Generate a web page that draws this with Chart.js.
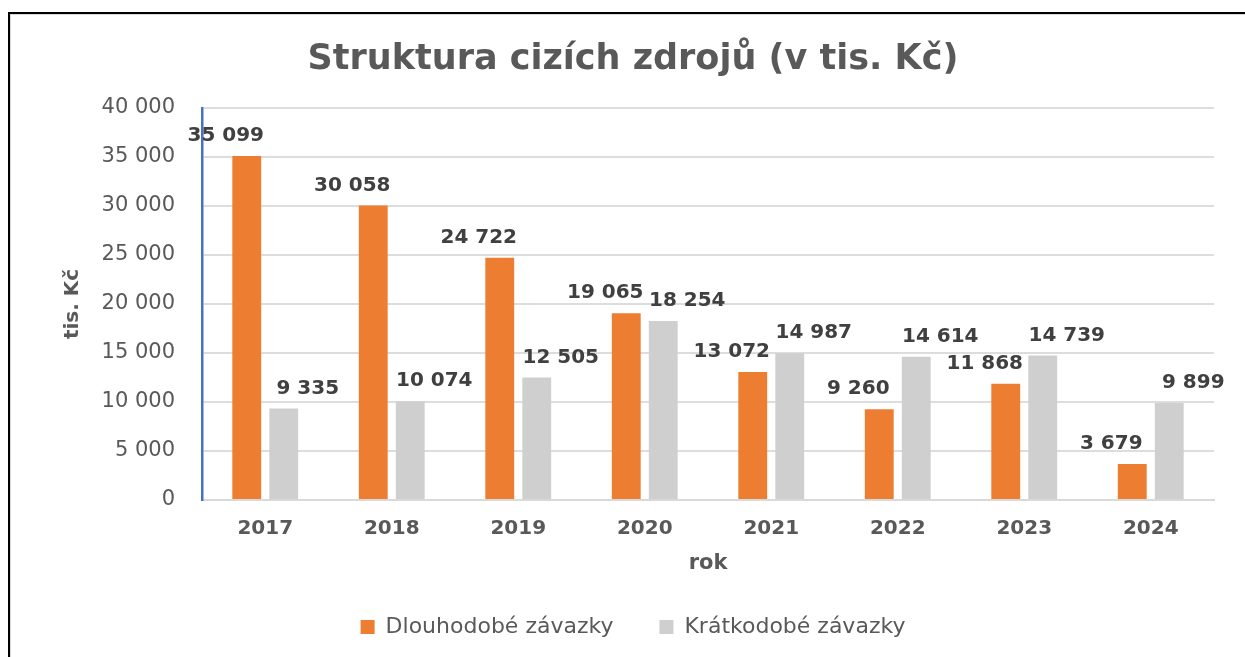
<!DOCTYPE html>
<html lang="cs">
<head>
    <meta charset="UTF-8">
    <script src="https://cdn.jsdelivr.net/npm/chart.js"></script>
    <title>Struktura cizích zdrojů</title>
    <style>
        body { margin: 0; background: #fff; overflow: hidden; }
        .wrap { position: relative; width: 1245px; height: 657px; overflow: hidden; }
        .frame {
            position: absolute; left: 8px; top: 12px; width: 1260px; height: 680px;
            border-top: 2px solid #000; border-left: 2px solid #000;
            pointer-events: none;
        }
        .frame-inner {
            position: absolute; left: 10px; top: 14px; width: 1260px; height: 680px;
            border-top: 1px solid #d9d9d9; border-left: 1px solid #d9d9d9;
            pointer-events: none;
        }
    </style>
</head>
<body>
    <div class="wrap">
        <canvas id="zdrojeChart" width="1245" height="657"></canvas>
        <div class="frame-inner"></div>
        <div class="frame"></div>
    </div>
    <script>
        const roky = ['2017', '2018', '2019', '2020', '2021', '2022', '2023', '2024'];
        const dlouhodobe = [35099, 30058, 24722, 19065, 13072, 9260, 11868, 3679];
        const kratkodobe = [9335, 10074, 12505, 18254, 14987, 14614, 14739, 9899];
        const osaY = [0, 5000, 10000, 15000, 20000, 25000, 30000, 35000, 40000];

        function formatCislo(v) {
            return String(v).replace(/\B(?=(\d{3})+(?!\d))/g, ' ');
        }

        // popisky hodnot nad sloupci (posunute do stran jako v Excelu)
        const popisky = {
            id: 'popisky',
            afterDatasetsDraw(chart) {
                const ctx = chart.ctx;
                ctx.save();
                ctx.font = 'bold 20px "DejaVu Sans"';
                ctx.fillStyle = '#404040';
                ctx.textAlign = 'center';
                ctx.textBaseline = 'middle';
                chart.data.datasets.forEach((ds, i) => {
                    const meta = chart.getDatasetMeta(i);
                    const dx = i === 0 ? -21 : 24;
                    meta.data.forEach((bar, j) => {
                        ctx.fillText(formatCislo(ds.data[j]), bar.x + dx, bar.y - 20);
                    });
                });
                ctx.restore();
            }
        };

        const ctx = document.getElementById('zdrojeChart').getContext('2d');
        const zdrojeChart = new Chart(ctx, {
            type: 'bar',
            data: {
                labels: roky,
                datasets: [{
                    label: 'Dlouhodobé závazky',
                    data: dlouhodobe,
                    backgroundColor: '#ED7D31',
                    categoryPercentage: 0.585,
                    barPercentage: 0.78
                }, {
                    label: 'Krátkodobé závazky',
                    data: kratkodobe,
                    backgroundColor: '#CFCFCF',
                    categoryPercentage: 0.585,
                    barPercentage: 0.78
                }]
            },
            options: {
                responsive: false,
                animation: false,
                layout: {
                    padding: { left: 52, right: 31, top: 0, bottom: 9 }
                },
                plugins: {
                    title: {
                        display: true,
                        text: 'Struktura cizích zdrojů (v tis. Kč)',
                        color: '#595959',
                        font: { family: '"DejaVu Sans"', size: 35, weight: 'bold', lineHeight: 1.2 },
                        padding: { top: 39, bottom: 27 }
                    },
                    legend: {
                        position: 'bottom',
                        labels: {
                            color: '#595959',
                            font: { family: '"DejaVu Sans"', size: 22 },
                            boxWidth: 14,
                            boxHeight: 14,
                            padding: 46
                        }
                    },
                    tooltip: { enabled: false }
                },
                scales: {
                    x: {
                        grid: { display: false },
                        border: { color: '#D9D9D9', width: 2 },
                        ticks: {
                            color: '#595959',
                            font: { family: '"DejaVu Sans"', size: 20, weight: 'bold' },
                            padding: 9
                        },
                        title: {
                            display: true,
                            text: 'rok',
                            color: '#595959',
                            font: { family: '"DejaVu Sans"', size: 21, weight: 'bold' },
                            padding: { top: 0, bottom: -6 }
                        },
                        afterFit(scale) { scale.height = 70; }
                    },
                    y: {
                        min: 0,
                        max: 40000,
                        afterBuildTicks(scale) {
                            scale.ticks = osaY.map(v => ({ value: v }));
                        },
                        grid: { color: '#DDDDDD', lineWidth: 2, drawTicks: false },
                        border: { color: '#4472C4', width: 2.5 },
                        ticks: {
                            color: '#595959',
                            font: { family: '"DejaVu Sans"', size: 21 },
                            padding: 27,
                            callback: v => formatCislo(v)
                        },
                        title: {
                            display: true,
                            text: 'tis. Kč',
                            color: '#595959',
                            font: { family: '"DejaVu Sans"', size: 20, weight: 'bold' },
                            padding: { top: 9, bottom: 0 }
                        },
                        afterFit(scale) { scale.width = 150; }
                    }
                }
            },
            plugins: [popisky]
        });
    </script>
</body>
</html>
